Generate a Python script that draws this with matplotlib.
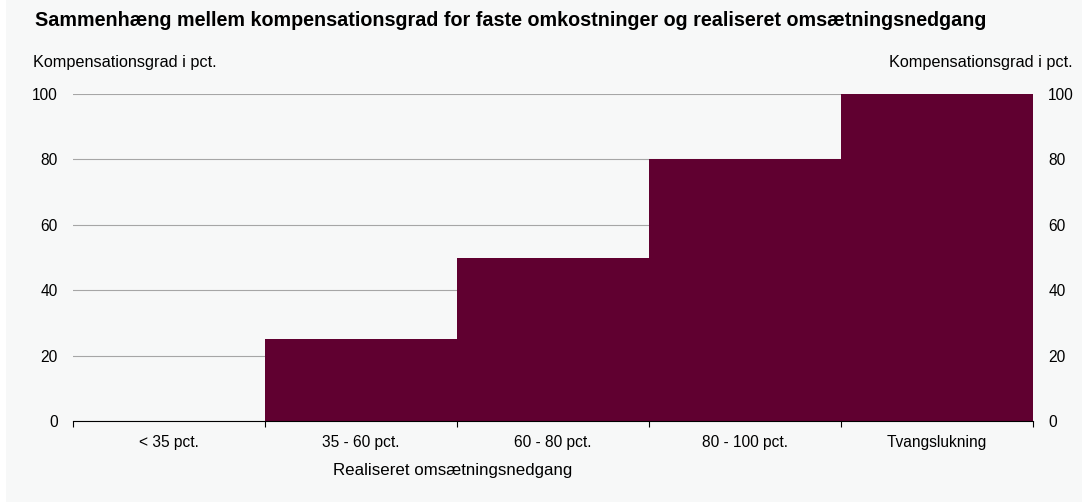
import matplotlib
matplotlib.use("Agg")
import matplotlib.pyplot as plt
import numpy as np

categories = ["< 35 pct.", "35 - 60 pct.", "60 - 80 pct.", "80 - 100 pct.", "Tvangslukning"]
values = [0, 25, 50, 80, 100]
yticks = [0, 20, 40, 60, 80, 100]

plt.rcParams['font.family'] = ['Liberation Sans', 'DejaVu Sans']

bg = "#F7F8F8"
bar_color = "#600030"
fs = 11.2

fig = plt.figure(figsize=(10.82, 5.04), dpi=100)
fig.patch.set_facecolor("white")
fig.patches.append(matplotlib.patches.Rectangle((6/1082, 2/504), 1 - 6/1082, 1 - 2/504,
                                                transform=fig.transFigure, facecolor=bg,
                                                edgecolor="none", zorder=-10))

ax = fig.add_axes([73/1082, 1 - 421/504, 960/1082, (421 - 94)/504])
ax.patch.set_alpha(0)

x = np.arange(len(categories))
ax.bar(x, values, width=1.0, color=bar_color, edgecolor="none", zorder=3)

ax.set_xlim(-0.5, len(categories) - 0.5)
ax.set_ylim(0, 100)
ax.set_yticks(yticks)
ax.yaxis.grid(True, color="#A6A6A6", linewidth=0.8, zorder=0)
ax.set_axisbelow(True)

for s in ["left", "right", "top"]:
    ax.spines[s].set_visible(False)
ax.spines["bottom"].set_color("black")
ax.spines["bottom"].set_linewidth(0.8)
ax.spines["bottom"].set_zorder(4)

ax.set_xticks(x)
ax.set_xticklabels(categories, fontsize=fs)
ax.tick_params(axis="x", which="major", length=0, pad=10)
ax.set_xticks(np.arange(-0.5, len(categories) + 0.5, 1.0), minor=True)
ax.tick_params(axis="x", which="minor", length=4, width=0.8, color="black", direction="out")

ax.tick_params(axis="y", length=0, labelsize=fs, pad=11, left=True, right=True,
               labelleft=True, labelright=True)

fig.text(35/1082, 1 - 20/504, "Sammenhæng mellem kompensationsgrad for faste omkostninger og realiseret omsætningsnedgang",
         fontsize=14.2, fontweight="bold", ha="left", va="center")
fig.text(33/1082, 1 - 62/504, "Kompensationsgrad i pct.", fontsize=11.7, ha="left", va="center")
fig.text(1073/1082, 1 - 62/504, "Kompensationsgrad i pct.", fontsize=11.7, ha="right", va="center")
fig.text(453/1082, 1 - 471/504, "Realiseret omsætningsnedgang", fontsize=12.2, ha="center", va="center")

fig.savefig("out.png", dpi=100, facecolor=fig.get_facecolor())
